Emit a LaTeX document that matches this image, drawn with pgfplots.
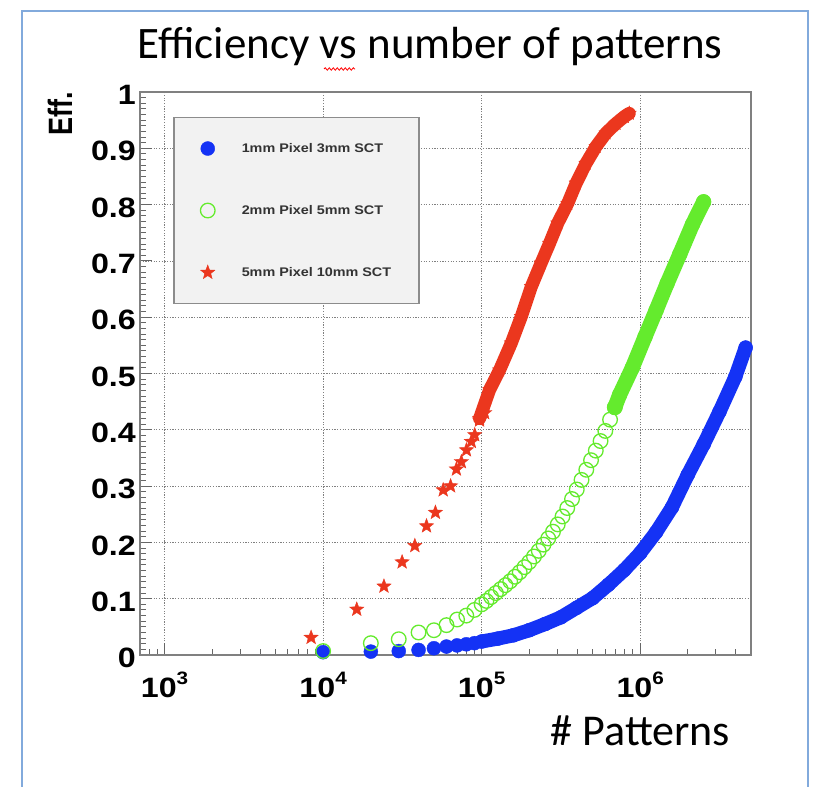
\documentclass[border=0pt]{standalone}
\usepackage{graphicx}
\usepackage{pgfplots}
\usepackage{pgfplotstable}
\pgfplotsset{compat=1.18}
\usepackage{fontspec}
\usetikzlibrary{decorations.pathmorphing}
\newfontfamily\tickfont[FakeStretch=1.15]{Liberation Sans}
\newfontfamily\labfont{Liberation Sans}
\newfontfamily\carlito{Carlito}
\definecolor{cblue}{RGB}{20,50,245}
\definecolor{cgreen}{RGB}{100,235,45}
\definecolor{cred}{RGB}{235,55,30}
\definecolor{frameblue}{RGB}{130,170,220}

\pgfdeclareplotmark{fstar}{%
  \pgfpathmoveto{\pgfpointpolar{90}{\pgfplotmarksize}}%
  \pgfpathlineto{\pgfpointpolar{126}{0.42\pgfplotmarksize}}%
  \pgfpathlineto{\pgfpointpolar{162}{\pgfplotmarksize}}%
  \pgfpathlineto{\pgfpointpolar{198}{0.42\pgfplotmarksize}}%
  \pgfpathlineto{\pgfpointpolar{234}{\pgfplotmarksize}}%
  \pgfpathlineto{\pgfpointpolar{270}{0.42\pgfplotmarksize}}%
  \pgfpathlineto{\pgfpointpolar{306}{\pgfplotmarksize}}%
  \pgfpathlineto{\pgfpointpolar{342}{0.42\pgfplotmarksize}}%
  \pgfpathlineto{\pgfpointpolar{18}{\pgfplotmarksize}}%
  \pgfpathlineto{\pgfpointpolar{54}{0.42\pgfplotmarksize}}%
  \pgfpathclose
  \pgfusepathqfillstroke}

\pgfplotsset{mymarkleg/.style={legend image code/.code={\path[draw=none,fill=none] (-8pt,-8pt) rectangle (8pt,8pt); \draw[##1,only marks] plot coordinates {(0pt,0pt)};}}}

\pgfplotstableread{
x y
10000 0.005
20000 0.006
30000 0.007
40000 0.009
50000 0.012
60000 0.015
70000 0.017
80000 0.019
90000 0.021
}\bs
\pgfplotstableread{
x y
100000 0.024
125900 0.029
158500 0.035
199500 0.044
251200 0.055
316200 0.067
398100 0.084
501200 0.101
631000 0.125
794300 0.151
1000000 0.181
1259000 0.218
1585000 0.262
1995000 0.320
2512000 0.374
3162000 0.432
3981000 0.494
4624000 0.546
}\bd
\pgfplotstableread{
x y
10000 0.007
20000 0.021
30000 0.028
40000 0.040
50000 0.044
60000 0.053
70000 0.063
80000 0.070
90000 0.080
100000 0.090
107200 0.096
114800 0.103
123000 0.110
131800 0.117
141300 0.124
151400 0.131
162200 0.139
173800 0.147
186200 0.156
199500 0.165
213800 0.175
229100 0.185
245500 0.196
263000 0.207
281800 0.219
302000 0.232
323600 0.246
346700 0.261
371500 0.277
398100 0.294
426600 0.311
457100 0.329
489800 0.346
524800 0.363
562300 0.380
602600 0.398
645700 0.418
691800 0.440
}\gs
\pgfplotstableread{
x y
691800 0.440
741300 0.462
891300 0.510
1072000 0.565
1259000 0.612
1479000 0.660
1778000 0.712
2138000 0.765
2512000 0.805
}\gd
\pgfplotstableread{
x y
8400 0.031
16300 0.081
24200 0.122
31500 0.165
37900 0.194
44900 0.229
51100 0.253
57200 0.293
63700 0.300
69300 0.330
74500 0.343
80200 0.364
86100 0.379
90400 0.391
97000 0.417
104500 0.430
}\rs
\pgfplotstableread{
x y
97000 0.420
112200 0.471
129700 0.506
153800 0.554
177800 0.601
205600 0.654
237100 0.696
267900 0.731
302000 0.767
349100 0.802
394500 0.838
455000 0.873
526000 0.903
608100 0.927
703100 0.944
792500 0.956
853100 0.962
}\rd

\begin{document}
\begin{tikzpicture}[x=1pt,y=1pt]
\useasboundingbox (0,0) rectangle (814,787);
\fill[white] (0,0) rectangle (814,787);
\draw[frameblue, line width=2pt] (22,-20) -- (22,776) -- (808,776) -- (808,-20);
\begin{axis}[
  at={(140pt,132pt)}, anchor=south west, scale only axis,
  width=611pt, height=563pt,
  xmode=log, log basis x=10,
  xmin=700, xmax=5e6, ymin=0, ymax=1,
  clip=false,
  axis line style={black!50, line width=1.5pt},
  tick align=inside, xtick pos=bottom, ytick pos=left,
  major tick length=12pt, minor tick length=6pt,
  tick style={black!60, line width=1pt},
  xtick={1000,10000,100000,1000000},
  xticklabels={10\raisebox{13pt}{\fontsize{18}{18}\selectfont 3},10\raisebox{13pt}{\fontsize{18}{18}\selectfont 4},10\raisebox{13pt}{\fontsize{18}{18}\selectfont 5},10\raisebox{13pt}{\fontsize{18}{18}\selectfont 6}},
  minor xtick={800,900,2000,3000,4000,5000,6000,7000,8000,9000,20000,30000,40000,50000,60000,70000,80000,90000,200000,300000,400000,500000,600000,700000,800000,900000,2000000,3000000,4000000},
  ytick={0,0.1,0.2,0.3,0.4,0.5,0.6,0.7,0.8,0.9,1},
  yticklabels={0,0.1,0.2,0.3,0.4,0.5,0.6,0.7,0.8,0.9,1},
  minor y tick num=9,
  grid=major,
  major grid style={dash pattern=on 1.2pt off 1.5pt, black!50, line width=0.7pt},
  yticklabel style={font=\fontsize{28}{30}\selectfont\tickfont\bfseries, inner sep=0pt, xshift=-4pt, yshift=-3pt},
  xticklabel style={font=\fontsize{28}{30}\selectfont\tickfont\bfseries, inner sep=0pt, yshift=-17pt, anchor=north},
  title={Efficiency vs number of patterns},
  title style={font=\fontsize{45}{50}\selectfont\carlito, at={(axis description cs:0.475,1.048)}, anchor=base, inner sep=0pt},
  xlabel={\# Patterns},
  xlabel style={font=\fontsize{44}{48}\selectfont\carlito, at={(axis description cs:0.966,-0.16)}, anchor=base east, inner sep=0pt},
  ylabel={\scalebox{1}[1.25]{Eff.}},
  ylabel style={font=\fontsize{27}{30}\selectfont\labfont\bfseries, at={(axis description cs:-0.131,1)}, anchor=east, inner sep=0pt},
  legend cell align=left,
  legend style={at={(axis description cs:0.054,0.956)}, anchor=north west, draw=black!45, line width=1.5pt, fill=black!5,
    font=\fontsize{12.5}{14}\selectfont\tickfont\bfseries, text=black!80,
    inner xsep=26pt, inner ysep=23pt, row sep=46pt,
    /tikz/every odd column/.append style={column sep=24pt}},
]
\addplot[only marks, mark=*, mark size=7pt, draw=cblue, fill=cblue, line width=0.4pt, mymarkleg] table[x=x,y=y] {\bs};
\addlegendentry{1mm Pixel 3mm SCT}
\addplot[forget plot, cblue, line width=14pt, line cap=round, line join=round, mark=*, mark size=7pt, mark options={line width=0.4pt, fill=cblue}] table[x=x,y=y] {\bd};
\addplot[only marks, mark=o, mark size=7.3pt, draw=cgreen, line width=1.3pt, mymarkleg] table[x=x,y=y] {\gs};
\addlegendentry{2mm Pixel 5mm SCT}
\addplot[forget plot, cgreen, line width=15pt, line cap=round, line join=round, mark=o, mark size=7pt, mark options={line width=1.3pt}] table[x=x,y=y] {\gd};
\addplot[only marks, mark=fstar, mark size=7.5pt, draw=cred, fill=cred, line width=0.4pt, mymarkleg] table[x=x,y=y] {\rs};
\addlegendentry{5mm Pixel 10mm SCT}
\addplot[forget plot, cred, line width=13pt, line cap=round, line join=round, mark=fstar, mark size=7.5pt, mark options={line width=0.4pt, fill=cred}] table[x=x,y=y] {\rd};
\end{axis}
\draw[red, line width=0.8pt, decorate, decoration={snake, amplitude=1.2pt, segment length=4pt}] (324,718) -- (355,718);
\end{tikzpicture}
\end{document}
